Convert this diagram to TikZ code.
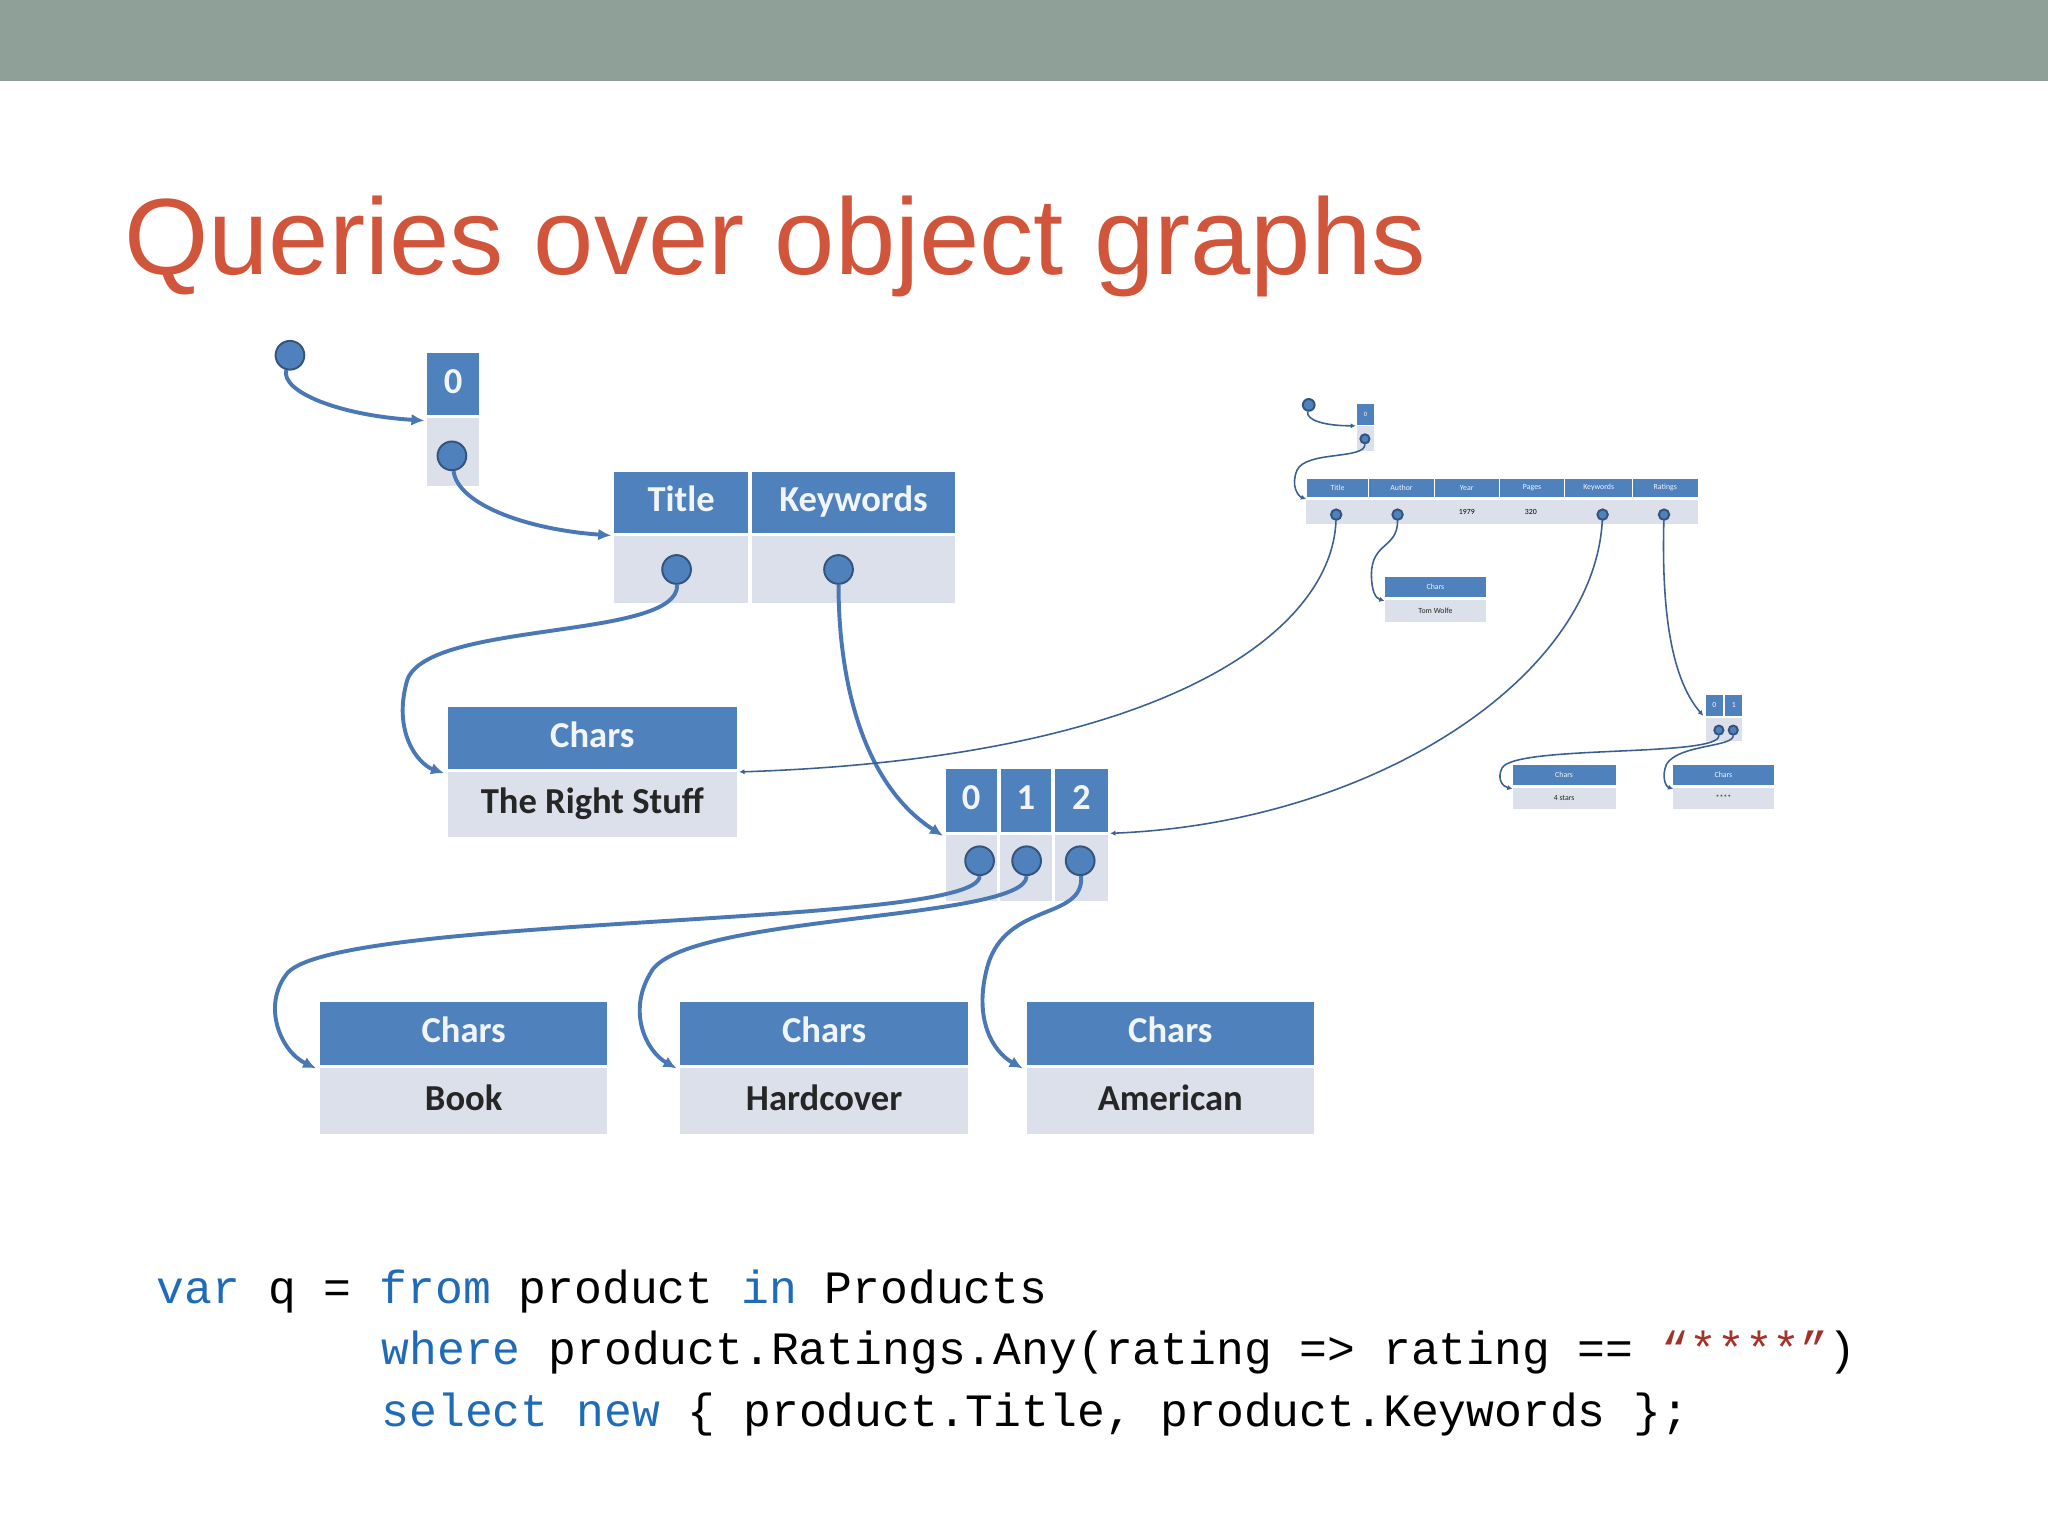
\documentclass[tikz,border=0pt]{standalone}
\usepackage{fontspec}
\setmainfont{Carlito}
\newfontfamily\ttl{Liberation Sans}
\newfontfamily\cod{Liberation Mono}
\usetikzlibrary{arrows.meta}
\definecolor{bar}{HTML}{8FA098}
\definecolor{ttlc}{HTML}{D0553A}
\definecolor{hdb}{HTML}{4F81BD}
\definecolor{cel}{HTML}{DBE0EA}
\definecolor{lnk}{HTML}{4A78B4}
\definecolor{kw}{HTML}{1F6BB8}
\definecolor{strc}{HTML}{A3322A}
\begin{document}
\begin{tikzpicture}[x=1pt,y=-1pt,
 hd/.style={fill=hdb,text=white!92!hdb,inner sep=0,outer sep=0,anchor=north west},
 ce/.style={fill=cel,text=black!85,inner sep=0,outer sep=0,anchor=north west},
 dot/.style={circle,fill=hdb,draw=lnk!70!black,line width=1.5,inner sep=0,minimum size=#1},
 ln/.style={draw=lnk,line width=3,-{Latex[length=10,width=9]}},
 sln/.style={draw=lnk!80!black,line width=1.2,-{Latex[length=4,width=4]}},
 big/.style={font=\bfseries\fontsize{28}{30}\selectfont,text height=19,text depth=5},
 sm/.style={font=\fontsize{6}{7}\selectfont},
 cd/.style={anchor=base west,inner sep=0,font=\cod\fontsize{35.5}{47}\selectfont}]
\useasboundingbox (0,0) rectangle (1568,1176);
\fill[bar] (0,0) rectangle (1568,62);
\node[anchor=base west,text=ttlc,font=\ttl\fontsize{83}{85}\selectfont,inner sep=0] (title) at (95,210) {Queries over object graphs};
% big graph
\node[dot=22] (s0) at (222,272) {};
\node[hd,big,minimum width=40,minimum height=48] (a0) at (327,270) {0};
\node[ce,minimum width=40,minimum height=52] (a0c) at (327,320) {};
\node[dot=22] (a0d) at (346,349) {};
\draw[ln] (s0) .. controls (215,300) and (260,318) .. (325,322);
\node[hd,big,minimum width=103,minimum height=47] (tT) at (470,361) {Title};
\node[hd,big,minimum width=155,minimum height=47] (tK) at (576,361) {Keywords};
\node[ce,minimum width=103,minimum height=52] (tTc) at (470,410) {};
\node[ce,minimum width=155,minimum height=52] (tKc) at (576,410) {};
\node[dot=22] (dT) at (518,436) {};
\node[dot=22] (dK) at (642,436) {};
\draw[ln] (a0d) .. controls (350,385) and (400,405) .. (468,410);
\node[hd,big,minimum width=221,minimum height=48] (rs) at (343,541) {Chars};
\node[ce,big,minimum width=221,minimum height=50] (rsc) at (343,591) {The Right Stuff};
\draw[ln] (dT) .. controls (520,490) and (330,475) .. (312,520) .. controls (300,560) and (320,585) .. (340,592);
\node[hd,big,minimum width=39,minimum height=48] (b0) at (724,589) {0};
\node[hd,big,minimum width=39,minimum height=48] (b1) at (766,589) {1};
\node[hd,big,minimum width=40,minimum height=48] (b2) at (808,589) {2};
\node[ce,minimum width=124,minimum height=51] (bc) at (724,639) {};
\draw[white,line width=2.5] (764.5,639) -- (764.5,690) (806.5,639) -- (806.5,690);
\node[dot=22] (d0) at (750,659) {};
\node[dot=22] (d1) at (786,659) {};
\node[dot=22] (d2) at (827,659) {};
\draw[ln] (dK) .. controls (642,520) and (660,600) .. (722,640);
\foreach \n/\x/\t in {bk/245/Book,hc/521/Hardcover,am/786/American}{
 \node[hd,big,minimum width=220,minimum height=48] (\n) at (\x,767) {Chars};
 \node[ce,big,minimum width=220,minimum height=50] (\n c) at (\x,818) {\t};}
\draw[ln] (d0) .. controls (750,710) and (260,700) .. (220,745) .. controls (200,770) and (215,805) .. (242,818);
\draw[ln] (d1) .. controls (786,705) and (520,700) .. (498,745) .. controls (480,775) and (495,805) .. (518,818);
\draw[ln] (d2) .. controls (830,705) and (770,690) .. (756,740) .. controls (745,780) and (760,805) .. (783,818);
% small graph
\node[dot=9] (ss) at (1002,310) {};
\node[hd,font=\fontsize{5}{6}\selectfont,minimum width=13,minimum height=16] (s0b) at (1039,309) {0};
\node[ce,minimum width=13,minimum height=19] (s0c) at (1039,326) {};
\node[dot=7] (s0d) at (1045,336) {};
\draw[sln] (ss) .. controls (1000,322) and (1015,326) .. (1038,326);
\foreach \n/\x/\w/\t in {sT/1000/48/Title,sA/1048/50/Author,sY/1098/50/Year,sP/1148/50/Pages,sK/1198/52/Keywords,sR/1250/50/Ratings}{
 \node[hd,sm,minimum width=\w,minimum height=15,draw=white,line width=0.6] (\n) at (\x,366) {\t};
 \node[ce,sm,minimum width=\w,minimum height=18] (\n c) at (\x,383) {};}
\node[sm] (y79) at (1123,392) {1979};
\node[sm] (p320) at (1172,392) {320};
\node[dot=8] (sdT) at (1023,394) {};
\node[dot=8] (sdA) at (1070,394) {};
\node[dot=8] (sdK) at (1227,394) {};
\node[dot=8] (sdR) at (1274,394) {};
\draw[sln] (s0d) .. controls (1045,352) and (1000,345) .. (993,360) .. controls (988,372) and (994,380) .. (1000,382);
\node[hd,sm,minimum width=78,minimum height=15] (tw) at (1060,442) {Chars};
\node[ce,sm,minimum width=78,minimum height=17] (twc) at (1060,459) {Tom Wolfe};
\draw[sln] (sdA) .. controls (1070,420) and (1050,415) .. (1050,440) .. controls (1050,452) and (1053,458) .. (1060,460);
\node[hd,sm,minimum width=13,minimum height=16] (r0) at (1306,532) {0};
\node[hd,sm,minimum width=13,minimum height=16] (r1) at (1321,532) {1};
\node[ce,minimum width=28,minimum height=17] (rc) at (1306,550) {};
\node[dot=7] (rd0) at (1316,559) {};
\node[dot=7] (rd1) at (1327,559) {};
\draw[sln] (sdR) .. controls (1272,470) and (1280,520) .. (1304,548);
\node[hd,sm,minimum width=79,minimum height=15] (fs) at (1158,586) {Chars};
\node[ce,sm,minimum width=79,minimum height=16] (fsc) at (1158,603) {4 stars};
\node[hd,sm,minimum width=77,minimum height=15] (st) at (1281,586) {Chars};
\node[ce,sm,minimum width=77,minimum height=16] (stc) at (1281,603) {****};
\draw[sln] (rd0) .. controls (1316,580) and (1160,570) .. (1150,588) .. controls (1146,596) and (1150,602) .. (1158,604);
\draw[sln] (rd1) .. controls (1327,572) and (1285,570) .. (1276,585) .. controls (1272,594) and (1275,602) .. (1281,604);
\draw[sln] (sdT) .. controls (1020,480) and (900,580) .. (566,591);
\draw[sln] (sdK) .. controls (1220,520) and (1050,630) .. (850,638);
% code
\node[cd] (c1) at (120,998) {\textcolor{kw}{var} q = \textcolor{kw}{from} product \textcolor{kw}{in} Products};
\node[cd] (c2) at (292,1045) {\textcolor{kw}{where} product.Ratings.Any(rating => rating == \textcolor{strc}{“****”})};
\node[cd] (c3) at (292,1092) {\textcolor{kw}{select} \textcolor{kw}{new} \{ product.Title, product.Keywords \};};
\end{tikzpicture}
\end{document}
